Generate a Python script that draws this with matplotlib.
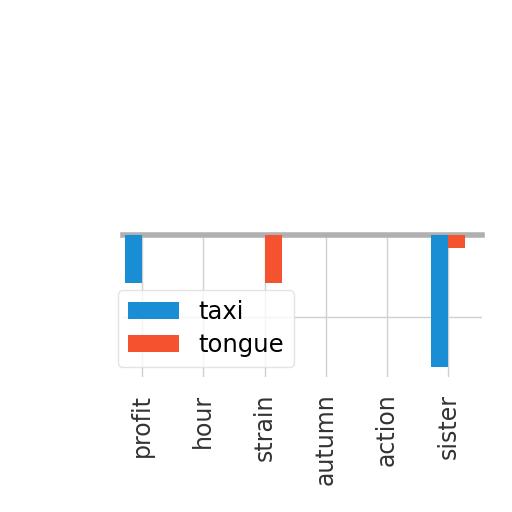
import matplotlib
matplotlib.use("Agg")
import matplotlib.pyplot as plt
import numpy as np

categories = ["profit", "hour", "strain", "autumn", "action", "sister"]
taxi = [11.7, 0, 0, 0, 0, 32.2]
tongue = [0, 0, 11.7, 0, 0, 3.2]

fig = plt.figure(figsize=(5.12, 5.12), dpi=100)
ax = fig.add_axes([123/512, 1-377/512, (482-123)/512, (377-235)/512])

x = np.arange(len(categories))
w = 0.28
ax.bar(x - w/2, taxi, width=w, color="#1a8ed4", label="taxi", zorder=3)
ax.bar(x + w/2, tongue, width=w, color="#f5532f", label="tongue", zorder=3)

ax.set_xlim(-0.31, 5.55)
ax.set_ylim(34.6, 0)
ax.set_yticks([0, 20])
ax.set_yticklabels([])
ax.tick_params(axis="y", length=0)
ax.set_xticks(x)
ax.set_xticklabels(categories, rotation=90, fontsize=17, color="#333333")
ax.tick_params(axis="x", length=0, pad=12)
ax.grid(True, color="#d0d0d0", linewidth=1, zorder=0)
for s in ["left", "right", "bottom"]:
    ax.spines[s].set_visible(False)
ax.spines["top"].set_color("#b0b0b0")
ax.spines["top"].set_linewidth(4)

ax.legend(loc="upper left", bbox_to_anchor=(118/512, 1-290/512),
          bbox_transform=fig.transFigure, fontsize=17.5, frameon=True,
          framealpha=0.8, edgecolor="#dddddd", borderaxespad=0,
          handlelength=2.1, labelspacing=0.4)

fig.savefig("out.png", dpi=100)
